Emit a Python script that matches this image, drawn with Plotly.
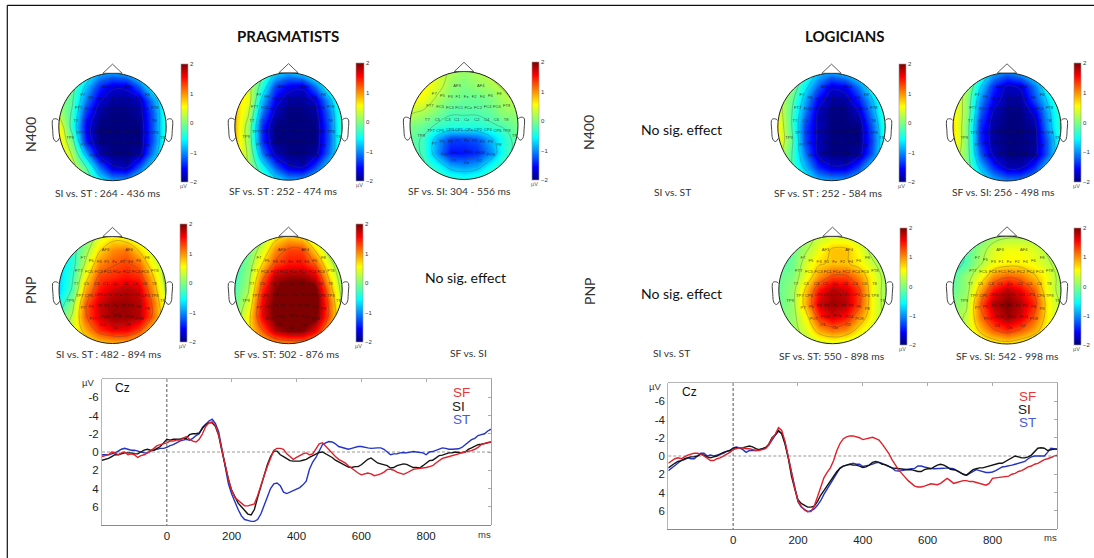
import plotly.graph_objects as go

W, H = 1094, 558

# ---------- ERP data (uV, positive plotted downward), one value per 10 ms from -200 to 1000 ms
erp_times = list(range(-200, 1001, 10))

prag_sf = [0.5,0.4,0.3,0.0,0.1,0.3,0.1,0.0,0.3,0.2,
 0.3,0.6,0.4,0.3,0.1,-0.1,-0.4,-0.7,-0.8,-0.9,
 -1.0,-1.2,-1.2,-1.3,-1.3,-1.5,-1.7,-1.4,-1.2,-1.1,
 -1.4,-2.0,-2.8,-3.2,-3.3,-2.9,-1.9,-0.2,1.6,3.0,
 4.2,5.0,5.3,5.6,5.9,5.9,5.8,5.7,4.8,3.6,
 2.6,1.6,0.6,-0.2,-0.4,-0.4,-0.3,0.2,0.5,0.8,
 0.6,0.4,0.2,0.1,0.3,0.2,-0.4,-0.9,-1.0,-0.6,
 -0.2,0.2,0.5,0.8,1.0,1.2,1.5,1.8,2.0,2.3,
 2.5,2.4,2.3,2.4,2.6,2.5,2.4,2.2,1.9,1.9,
 2.0,2.2,2.3,2.45,2.3,2.1,1.9,1.85,1.8,1.8,
 1.7,1.6,1.5,1.2,0.9,0.7,0.6,0.5,0.45,0.3,
 0.2,0.05,0.0,-0.1,-0.15,-0.3,-0.5,-0.8,-0.95,-1.05,-1.1]
prag_si = [0.9,0.8,0.7,0.5,0.3,0.3,0.2,0.1,0.1,0.1,
 0.2,0.2,0.0,-0.2,-0.3,-0.2,-0.2,-0.4,-0.6,-1.0,
 -1.4,-1.3,-1.4,-1.4,-1.4,-1.5,-1.5,-1.9,-2.0,-2.0,
 -2.1,-2.6,-3.0,-3.2,-3.2,-2.8,-1.8,-0.1,1.6,3.0,
 4.2,5.0,5.6,6.0,6.4,6.8,6.9,6.3,5.0,3.7,
 2.5,1.4,0.5,-0.1,-0.1,0.3,0.5,0.7,0.95,1.0,
 1.0,1.0,0.9,0.8,0.6,0.4,0.2,0.05,0.0,0.2,
 0.4,0.6,0.9,1.1,1.3,1.5,1.65,1.7,1.6,1.6,
 1.4,1.1,0.8,0.65,0.9,1.2,1.3,1.4,1.5,1.75,
 1.7,1.5,1.4,1.3,1.35,1.5,1.7,1.7,1.75,1.5,
 1.2,0.95,0.9,0.6,0.4,0.35,0.25,0.1,0.1,0.0,
 0.05,0.1,0.0,-0.3,-0.45,-0.6,-0.8,-0.85,-0.9,-1.0,-1.1]
prag_st = [0.3,0.3,0.3,0.2,0.1,-0.1,-0.3,-0.4,-0.3,-0.2,
 -0.2,-0.1,0.0,0.1,0.1,-0.1,-0.2,-0.3,-0.4,-0.4,
 -0.5,-0.7,-0.8,-1.0,-1.2,-1.3,-1.4,-1.3,-1.5,-1.8,
 -2.0,-2.7,-3.1,-3.4,-3.6,-3.1,-2.2,-0.3,1.9,3.5,
 4.6,5.5,6.3,7.0,7.4,7.5,7.6,7.6,7.4,6.8,
 5.9,5.0,4.0,3.5,3.4,3.7,4.4,4.55,4.4,4.2,
 4.1,3.9,3.6,3.2,1.9,1.1,0.6,-0.1,-0.8,-1.0,
 -1.15,-1.1,-0.9,-0.6,-0.5,-0.4,-0.3,-0.4,-0.5,-0.6,
 -0.6,-0.5,-0.45,-0.4,-0.45,-0.45,-0.45,-0.3,0.0,0.3,
 0.2,0.2,0.1,0.05,0.1,0.0,-0.05,0.0,0.05,0.1,
 0.3,0.0,-0.05,-0.2,-0.3,-0.45,-0.4,-0.3,-0.3,-0.3,
 -0.35,-0.5,-0.8,-1.1,-1.35,-1.5,-1.8,-1.9,-2.0,-2.3,-2.5]

log_sf = [0.8,0.5,0.3,0.2,0.3,0.1,-0.1,-0.2,-0.3,-0.3,
 -0.2,0.0,0.3,0.5,0.5,0.3,0.2,0.0,-0.2,-0.4,
 -0.7,-0.8,-0.9,-0.9,-0.8,-0.8,-0.7,-0.6,-0.6,-0.7,
 -0.8,-1.2,-1.9,-2.4,-3.1,-2.8,-1.6,0.1,2.0,3.5,
 4.9,5.5,5.9,6.1,6.1,5.5,4.5,3.4,2.4,1.8,
 1.3,0.5,-0.6,-1.4,-1.9,-2.1,-2.2,-2.2,-2.1,-2.0,
 -1.8,-1.9,-2.0,-2.05,-1.9,-1.75,-1.3,-0.85,-0.3,0.4,
 1.0,1.5,1.9,2.35,2.7,3.0,3.3,3.4,3.4,3.3,
 3.2,3.05,3.1,3.15,3.0,2.7,2.45,2.7,3.0,2.9,
 2.8,2.7,2.7,2.8,2.8,2.9,3.0,3.1,3.2,3.0,
 2.45,2.4,2.35,2.3,2.3,2.2,2.0,1.9,1.7,1.6,
 1.4,1.2,1.1,0.9,0.8,0.6,0.4,0.3,0.15,0.0,-0.1]
log_si = [1.3,1.0,0.8,0.6,0.5,0.3,0.2,0.1,0.1,0.0,
 -0.2,-0.1,0.1,0.2,0.1,0.0,-0.2,-0.4,-0.5,-0.6,
 -0.8,-0.9,-0.9,-0.9,-1.0,-1.1,-1.0,-0.8,-0.7,-0.8,
 -0.9,-1.3,-2.0,-2.3,-2.8,-2.4,-1.3,0.2,2.2,3.6,
 4.8,5.2,5.4,5.6,5.6,5.5,5.0,4.3,3.8,3.3,
 2.8,2.2,1.7,1.35,1.1,1.0,0.9,1.0,1.0,1.1,
 1.25,1.2,1.0,0.7,0.6,0.7,0.9,0.95,1.1,1.3,
 1.35,1.4,1.4,1.45,1.5,1.5,1.6,1.7,1.7,1.5,
 1.4,1.4,1.2,1.0,0.9,1.0,1.2,1.45,1.5,1.6,
 1.8,2.0,2.1,1.8,1.5,1.4,1.3,1.3,1.2,1.1,
 1.0,0.9,0.8,0.8,0.6,0.4,0.2,0.0,0.1,0.2,
 0.2,0.1,-0.1,-0.5,-0.85,-0.9,-0.85,-0.6,-0.7,-0.75,-0.75]
log_st = [1.6,1.3,1.0,0.7,0.5,0.4,0.2,0.3,0.3,0.0,
 -0.3,-0.3,0.0,-0.1,0.0,-0.1,-0.2,-0.3,-0.5,-0.6,
 -0.9,-1.0,-0.9,-0.7,-0.4,-0.6,-0.6,-0.6,-0.7,-0.8,
 -0.9,-1.2,-1.8,-2.3,-2.7,-2.5,-1.5,0.1,2.0,3.6,
 5.0,5.6,5.9,6.1,6.0,5.8,5.4,4.9,4.2,3.6,
 3.0,2.4,1.8,1.3,1.1,1.0,0.9,0.8,0.9,0.9,
 1.15,1.1,1.0,0.9,0.75,0.7,0.8,1.0,1.15,1.3,
 1.6,1.65,1.6,1.5,1.45,1.4,1.35,1.1,1.1,1.2,
 1.3,1.35,1.4,1.4,1.4,1.35,1.3,1.35,1.4,1.6,
 1.8,2.0,2.1,1.9,1.7,1.5,1.6,1.7,1.8,1.8,
 1.75,1.6,1.4,1.2,1.15,1.1,1.0,0.9,0.8,0.7,
 0.6,0.3,0.1,0.0,0.0,0.05,0.0,-0.4,-0.85,-0.8,-0.75]

x_tick_vals = [0, 200, 400, 600, 800]
y_tick_vals = [-6, -4, -2, 0, 2, 4, 6]
y_tick_text = ["-6", "-4", "-2", "0", "2", "4", "6"]

# ---------- scalp map data: 9 x 9 potentials (uV), top row = front of head
grid_pos = [-1, -0.75, -0.5, -0.25, 0, 0.25, 0.5, 0.75, 1]
grid_rows = [1, 0.75, 0.5, 0.25, 0, -0.25, -0.5, -0.75, -1]

prag_n400_si_st = [[0,-.1,-.4,-.9,-1.0,-.9,-.5,-.1,0],[.1,-.1,-.8,-1.4,-1.7,-1.7,-1.2,-.4,-.1],
 [.1,-.2,-1.1,-1.7,-1.9,-1.9,-1.8,-1,-.2],[.2,-.3,-1.4,-1.9,-2,-2,-1.9,-1.2,-.3],[.6,-.4,-1.6,-2,-2,-2,-2,-1.2,-.3],
 [.7,-.1,-1.5,-2,-2,-2,-2,-1.2,-.3],[.8,.2,-.9,-1.8,-2,-2,-1.9,-1,-.2],[.7,.4,-.2,-1.1,-1.7,-1.8,-1.2,-.4,-.1],
 [.5,.3,0,-.5,-.9,-.9,-.5,-.1,0]]
prag_n400_sf_st = [[.5,.3,-.1,-.7,-.9,-.7,-.3,0,.1],[.6,.4,-.4,-1.3,-1.6,-1.7,-1.1,-.3,0],
 [.7,.5,-.8,-1.6,-1.9,-1.9,-1.7,-.9,-.1],[.8,.3,-1.1,-1.8,-2,-2,-1.9,-1.1,-.2],[.8,.1,-1.4,-2,-2,-2,-2,-1.2,-.2],
 [.8,.1,-1.4,-2,-2,-2,-2,-1.2,-.2],[.7,.2,-1.1,-1.8,-2,-2,-1.9,-1.1,-.2],[.5,.2,-.5,-1.2,-1.7,-1.8,-1.3,-.6,-.1],
 [.3,.1,-.2,-.6,-.9,-.9,-.6,-.2,0]]
prag_n400_sf_si = [[.5,.5,.4,.2,.1,.2,.3,.3,.3],[.6,.6,.4,.1,0,.1,.2,.3,.3],[.6,.5,.2,0,-.1,-.1,0,.2,.3],
 [.3,.2,0,-.2,-.2,-.2,-.1,.1,.1],[0,-.1,-.3,-.4,-.4,-.4,-.3,-.2,0],[-.1,-.3,-.9,-1.3,-1.3,-1.2,-.8,-.4,-.1],
 [-.1,-.3,-1,-1.5,-1.5,-1.4,-1,-.4,-.1],[0,-.2,-.5,-.9,-1,-.9,-.5,-.2,0],[0,0,-.1,-.3,-.4,-.3,-.1,0,0]]
prag_pnp_si_st = [[-.5,-.4,-.1,.4,.6,.5,.3,.1,0],[-.6,-.4,.1,.7,1,1.1,.7,.3,0],[-.7,-.4,.3,1,1.2,1.3,1.1,.5,.1],
 [-.7,-.3,.6,1.3,1.4,1.5,1.4,.8,.1],[-.7,-.2,.9,1.5,1.7,1.8,1.7,1,.2],[-.5,.1,1.2,1.7,1.9,1.9,1.8,1.2,.3],
 [-.2,.3,1.2,1.7,1.9,1.9,1.8,1.2,.4],[0,.4,.9,1.4,1.6,1.6,1.3,.7,.2],[.1,.3,.5,.7,.8,.8,.6,.3,.1]]
prag_pnp_sf_st = [[-.2,-.1,.1,.6,.8,.7,.2,0,0],[-.2,-.1,.4,1,1.3,1.3,.7,.1,0],[-.3,0,.7,1.3,1.5,1.5,1.2,.4,-.1],
 [-.3,.1,1.1,1.8,1.9,1.9,1.7,.7,0],[-.2,.2,1.4,2,2.2,2.2,2.1,1,.1],[-.1,.4,1.6,2.1,2.3,2.3,2.2,1.2,.2],
 [0,.6,1.6,2.1,2.3,2.3,2.1,1.2,.3],[.2,.6,1.2,1.8,2,2,1.6,.8,.3],[.3,.5,.7,.9,1,1,.8,.4,.2]]
log_n400_sf_st = [[.2,.1,-.3,-.8,-1,-.8,-.5,-.2,-.1],[.3,.1,-.6,-1.2,-1.7,-1.6,-1.1,-.4,-.1],
 [.4,-.1,-.9,-1.6,-1.9,-1.9,-1.5,-.8,-.2],[.5,-.2,-1.1,-1.8,-2,-2,-1.8,-1,-.2],[.6,-.2,-1.3,-1.8,-2,-2,-2,-1.2,-.3],
 [.6,-.1,-1.3,-1.8,-2,-2,-2,-1.3,-.3],[.4,-.2,-1.1,-1.8,-2,-2,-1.9,-1.2,-.3],[.2,-.2,-.8,-1.4,-1.7,-1.7,-1.3,-.6,-.2],
 [.1,-.1,-.4,-.8,-.9,-.9,-.7,-.3,-.1]]
log_n400_sf_si = [[.3,.2,-.3,-.9,-1.1,-.9,-.5,-.2,0],[.4,.2,-.7,-1.4,-1.8,-1.7,-1.1,-.4,-.1],
 [.6,.1,-1,-1.6,-1.9,-1.9,-1.3,-.7,-.1],[.6,.1,-1.2,-1.8,-2,-2,-1.7,-.9,-.2],[.7,0,-1.4,-1.9,-2,-2,-1.9,-1,-.2],
 [.7,0,-1.4,-1.9,-2,-2,-1.9,-1.2,-.3],[.5,0,-1.2,-1.8,-2,-2,-1.9,-1.2,-.3],[.3,0,-.8,-1.4,-1.8,-1.8,-1.4,-.7,-.2],
 [.1,0,-.4,-.8,-1,-1,-.8,-.4,-.2]]
log_pnp_sf_st = [[-.1,0,.1,.3,.4,.4,.3,.1,0],[-.2,-.1,.2,.5,.8,.8,.5,.1,0],[-.2,-.1,.4,.7,.8,.8,.6,.3,0],
 [-.1,0,.5,1,1.3,1.3,1,.5,.1],[-.1,.1,.8,1.5,1.8,1.7,1.3,.5,.1],[-.1,.1,.9,1.7,1.9,1.8,1.3,.5,.1],
 [0,.1,.6,1.4,1.7,1.5,1,.5,.1],[0,.1,.4,.9,1.1,1,.6,.3,0],[0,.1,.2,.3,.4,.3,.2,.1,0]]
log_pnp_sf_si = [[-.3,-.2,-.1,.1,.2,.2,.2,.1,0],[-.4,-.2,.1,.4,.5,.5,.4,.2,.1],[-.4,-.2,.2,.5,.6,.6,.5,.3,.1],
 [-.2,.1,.5,1,1.2,1.1,.8,.5,.1],[-.1,.1,.9,1.5,1.8,1.6,1.2,.5,.1],[0,.2,1.2,1.8,2,1.8,1.4,.6,.2],
 [.1,.3,1.1,1.6,1.9,1.7,1.2,.6,.2],[.1,.3,.8,1.2,1.4,1.2,.9,.5,.2],[.1,.2,.4,.5,.6,.5,.4,.2,.1]]

# electrode names and their places on the unit head
electrode_names = ["AF3","AF4","F7","F5","F3","F1","Fz","F2","F4","F6","F8",
 "FT7","FC5","FC3","FC1","FCz","FC2","FC4","FC6","FT8",
 "T7","C5","C3","C1","Cz","C2","C4","C6","T8",
 "TP7","CP5","CP3","CP1","CPz","CP2","CP4","CP6","TP8","TP9","TP10",
 "P7","P5","P3","P1","Pz","P2","P4","P6","P8","PO7","PO3","POz","PO4","PO8","O1","Oz","O2"]
electrode_x = [-.13,.31,-.55,-.40,-.25,-.11,.04,.19,.34,.49,.65,
 -.63,-.44,-.26,-.09,.08,.26,.44,.61,.79,
 -.68,-.49,-.30,-.13,.05,.24,.42,.60,.78,
 -.61,-.44,-.26,-.09,.09,.26,.44,.62,.79,-.79,.98,
 -.55,-.40,-.25,-.11,.05,.20,.34,.49,.65,-.35,-.14,.09,.31,.50,-.18,.05,.29]
electrode_y = [.74,.74,.59,.55,.52,.52,.52,.52,.52,.54,.59,
 .36,.34,.33,.33,.33,.33,.34,.34,.36,
 .11,.11,.11,.11,.11,.11,.11,.11,.11,
 -.11,-.11,-.09,-.09,-.09,-.09,-.09,-.11,-.11,-.20,-.20,
 -.34,-.31,-.30,-.29,-.29,-.29,-.30,-.31,-.36,-.54,-.50,-.49,-.50,-.54,-.66,-.70,-.66]

# ---------- helpers
fig = go.Figure()
layout = dict(shapes=[], annotations=[])
colorbar_ticks = [-2, -1, 0, 1, 2]
JET = [[0, "#00007f"], [0.11, "#0000ff"], [0.36, "#00ffff"], [0.5, "#7fff7f"], [0.64, "#ffff00"],
       [0.89, "#ff0000"], [1, "#7f0000"]]
axis_counter = [0]
K = 0.5523
CIRCLE = (f"M1,0 C1,{K} {K},1 0,1 C{-K},1 -1,{K} -1,0 C-1,{-K} {-K},-1 0,-1 C{K},-1 1,{-K} 1,0 Z")
MASK = "M-1.3,-1.3 H1.3 V1.3 H-1.3 Z " + CIRCLE
EAR_L = "M-1.0,.12 C-1.03,.16 -1.1,.17 -1.12,.12 C-1.13,.05 -1.11,-.05 -1.11,-.12 C-1.11,-.2 -1.09,-.27 -1.04,-.27 C-1.02,-.27 -1,-.22 -.98,-.2"
EAR_R = "M1.0,.12 C1.03,.16 1.1,.17 1.12,.12 C1.13,.05 1.11,-.05 1.11,-.12 C1.11,-.2 1.09,-.27 1.04,-.27 C1.02,-.27 1,-.22 .98,-.2"
NOSE = "M-.18,1.0 L0,1.17 L.18,1.0 Z"


def text(x, y, s, size, color="#222", family="Lato", angle=0, bold=False, anchor="center"):
    layout["annotations"].append(dict(
        x=x / W, y=1 - y / H, xref="paper", yref="paper", text=f"<b>{s}</b>" if bold else s,
        showarrow=False, xanchor=anchor, yanchor="middle", textangle=angle,
        font=dict(size=size, color=color, family=family)))


def next_axes():
    axis_counter[0] += 1
    n = axis_counter[0]
    return n, ("x" if n == 1 else f"x{n}"), ("y" if n == 1 else f"y{n}"), \
        ("xaxis" if n == 1 else f"xaxis{n}"), ("yaxis" if n == 1 else f"yaxis{n}")


def head_map(z, cx, cy, r, cb_x0, cb_x1, cb_y0, cb_y1):
    n, xa, ya, xk, yk = next_axes()
    ext = 1.3
    layout[xk] = dict(domain=[(cx - ext * r) / W, (cx + ext * r) / W], range=[-ext, ext], visible=False, fixedrange=True)
    layout[yk] = dict(domain=[1 - (cy + ext * r) / H, 1 - (cy - ext * r) / H], range=[-ext, ext], visible=False, fixedrange=True)
    fig.add_trace(go.Heatmap(
        x=grid_pos, y=grid_rows, z=z, xaxis=xa, yaxis=ya, colorscale=JET, zmin=-2, zmax=2,
        zsmooth="best", hoverinfo="skip",
        colorbar=dict(x=cb_x0 / W, xanchor="left", y=1 - cb_y1 / H, yanchor="bottom",
                      len=(cb_y1 - cb_y0) / H, lenmode="fraction",
                      thickness=cb_x1 - cb_x0, thicknessmode="pixels",
                      tickvals=colorbar_ticks, ticks="", tickfont=dict(size=6, color="#333", family="Liberation Sans"),
                      outlinecolor="#999", outlinewidth=0.6, borderwidth=0, xpad=0, ypad=0, ticklabelposition="outside")))
    fig.add_trace(go.Contour(
        x=grid_pos, y=grid_rows, z=z, xaxis=xa, yaxis=ya, showscale=False, hoverinfo="skip",
        contours=dict(coloring="none", start=-1.75, end=1.75, size=0.5),
        line=dict(color="rgba(70,70,70,0.5)", width=0.6, smoothing=1.3)))
    fig.add_trace(go.Scatter(
        x=electrode_x, y=electrode_y, text=electrode_names, mode="text", xaxis=xa, yaxis=ya,
        textfont=dict(size=4.2, color="rgba(20,20,20,0.8)", family="Liberation Sans"), hoverinfo="skip", showlegend=False))
    common = dict(xref=xa, yref=ya, layer="above")
    layout["shapes"].append(dict(type="path", path=MASK, fillcolor="white", line=dict(width=0), fillrule="evenodd", **common))
    layout["shapes"].append(dict(type="path", path=CIRCLE, line=dict(color="#222", width=1), **common))
    for p in (EAR_L, EAR_R):
        layout["shapes"].append(dict(type="path", path=p, line=dict(color="#444", width=1), **common))
    layout["shapes"].append(dict(type="path", path=NOSE, line=dict(color="#333", width=0.8), fillcolor="white", **common))
    text((cb_x0 + cb_x1) / 2 - 1, cb_y1 + 4, "µV", 5.5, "#555", "Liberation Sans")


def erp(left, right, top, bottom, sf, si, st):
    n, xa, ya, xk, yk = next_axes()
    dom_x = [left / W, right / W]
    dom_y = [1 - bottom / H, 1 - top / H]
    layout[xk] = dict(domain=dom_x, range=[-200, 1000], tickvals=x_tick_vals, ticktext=[str(v) for v in x_tick_vals],
                      ticks="", showgrid=False, zeroline=False, showline=True, linecolor="#8a8a8a", linewidth=1,
                      tickfont=dict(size=11.5, color="#222", family="Liberation Sans"), anchor=ya, fixedrange=True)
    layout[yk] = dict(domain=dom_y, range=[8, -8], tickvals=y_tick_vals, ticktext=y_tick_text, ticks="",
                      showgrid=False, zeroline=False, showline=True, linecolor="#b5b5b5", linewidth=1,
                      tickfont=dict(size=11.5, color="#222", family="Liberation Sans"), anchor=xa, fixedrange=True)
    m, xb, yb, xkb, ykb = next_axes()
    layout[xkb] = dict(domain=dom_x, range=[-200, 1000], side="top", tickvals=x_tick_vals, ticks="inside", ticklen=3,
                       tickcolor="#aaa", showticklabels=False, showgrid=False, zeroline=False, showline=True,
                       linecolor="#b5b5b5", linewidth=1, anchor=yb, fixedrange=True)
    layout[ykb] = dict(domain=dom_y, range=[8, -8], side="right", tickvals=y_tick_vals, ticks="inside", ticklen=3,
                       tickcolor="#aaa", showticklabels=False, showgrid=False, zeroline=False, showline=True,
                       linecolor="#a0a0a0", linewidth=1, anchor=xb, fixedrange=True)
    fig.add_trace(go.Scatter(x=[None], y=[None], xaxis=xb, yaxis=yb, showlegend=False, hoverinfo="skip"))
    layout["shapes"].append(dict(type="line", xref=xa, yref=ya, x0=-200, x1=1000, y0=0, y1=0, layer="below",
                                 line=dict(color="#999", width=1, dash="3px,2px")))
    layout["shapes"].append(dict(type="line", xref=xa, yref=ya, x0=0, x1=0, y0=-8, y1=8, layer="below",
                                 line=dict(color="#555", width=1, dash="3px,2px")))
    for vals, col in ((st, "#2233c8"), (si, "#141414"), (sf, "#e0202a")):
        fig.add_trace(go.Scatter(x=erp_times, y=vals, xaxis=xa, yaxis=ya, mode="lines",
                                 line=dict(color=col, width=1.4), showlegend=False, hoverinfo="skip"))


# ---------- maps
head_map(prag_n400_si_st, 112.5, 127, 53.7, 181, 188, 64, 182)
head_map(prag_n400_sf_st, 288.5, 126.5, 53.7, 356, 364, 63, 181)
head_map(prag_n400_sf_si, 464, 125.5, 54, 532, 539, 62, 180)
head_map(prag_pnp_si_st, 112.5, 290, 53.5, 180, 187, 224, 342)
head_map(prag_pnp_sf_st, 288.5, 290, 53.7, 356, 363, 224, 342)
head_map(log_n400_sf_st, 831.5, 127, 53.7, 899, 906, 64, 182)
head_map(log_n400_sf_si, 1007, 127, 54, 1074, 1081, 63, 182)
head_map(log_pnp_sf_st, 832.5, 290, 53.7, 900, 907, 228, 345)
head_map(log_pnp_sf_si, 1007, 290, 54, 1074, 1081, 228, 345)

# ---------- ERP panels
erp(102, 491, 379, 525, prag_sf, prag_si, prag_st)
erp(668.3, 1057.3, 383, 529, log_sf, log_si, log_st)

# ---------- frame lines of the slide
layout["shapes"].append(dict(type="line", xref="paper", yref="paper", x0=7.3 / W, x1=1, y0=1 - 5.3 / H, y1=1 - 5.3 / H, line=dict(color="#111", width=1.2)))
layout["shapes"].append(dict(type="line", xref="paper", yref="paper", x0=7.3 / W, x1=7.3 / W, y0=0, y1=1 - 5.3 / H, line=dict(color="#111", width=1.2)))

# ---------- texts
text(288, 36, "PRAGMATISTS", 15, "#111", bold=True)
text(844, 36, "LOGICIANS", 15, "#111", bold=True)
text(30, 135, "N400", 14, "#333", angle=-90)
text(30, 290, "PNP", 14, "#333", angle=-90)
text(589, 133, "N400", 14, "#333", angle=-90)
text(589, 291, "PNP", 14, "#333", angle=-90)
text(681, 129, "No sig. effect", 14, "#111")
text(465, 278, "No sig. effect", 14, "#111")
text(681, 293, "No sig. effect", 14, "#111")
for x, y, s in [(108, 193, "SI vs. ST : 264 - 436 ms"), (284, 191, "SF vs. ST : 252 - 474 ms"),
                (459, 191, "SF vs. SI: 304 - 556 ms"), (109, 354, "SI vs. ST : 482 - 894 ms"),
                (287, 354, "SF vs. ST: 502 - 876 ms"), (828, 193, "SF vs. ST : 252 - 584 ms"),
                (1003, 192, "SF vs. SI: 256 - 498 ms"), (832, 356, "SF vs. ST: 550 - 898 ms"),
                (1007, 356, "SF vs. SI: 542 - 998 ms"), (672, 192, "SI vs. ST"),
                (468, 353, "SF vs. SI"), (671, 353, "SI vs. ST")]:
    text(x, y, s, 10.3, "#333")

text(88, 382, "µV", 9.5, "#333", "Liberation Sans")
text(655, 386, "µV", 9.5, "#333", "Liberation Sans")
text(484, 534, "ms", 9.5, "#333", "Liberation Sans")
text(1050, 537, "ms", 9.5, "#333", "Liberation Sans")
text(122, 388, "Cz", 12, "#111", "Liberation Sans")
text(689, 392, "Cz", 12, "#111", "Liberation Sans")
for x, y, s, c in [(461, 392, "SF", "#e8363a"), (458, 406, "SI", "#222"), (461, 419, "ST", "#4a5ad8"),
                   (1027, 396, "SF", "#e8363a"), (1024, 409, "SI", "#222"), (1027, 422, "ST", "#4a5ad8")]:
    text(x, y, s, 13.5, c, "Liberation Sans", anchor="center")

fig.update_layout(width=W, height=H, margin=dict(l=0, r=0, t=0, b=0), paper_bgcolor="white", plot_bgcolor="rgba(0,0,0,0)",
                  showlegend=False, **layout)
fig.write_html("out.html", config={"displayModeBar": False},
               post_script="document.body.style.margin='0';document.body.style.overflow='hidden';")
